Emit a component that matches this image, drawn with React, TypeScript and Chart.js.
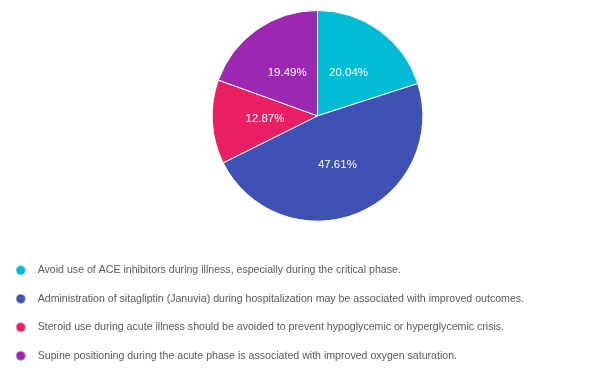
import React, { useEffect, useRef } from "react";
import { Chart, registerables } from "chart.js";

Chart.register(...registerables);

const categories: string[] = [
  "Avoid use of ACE inhibitors during illness, especially during the critical phase.",
  "Administration of sitagliptin (Januvia) during hospitalization may be associated with improved outcomes.",
  "Steroid use during acute illness should be avoided to prevent hypoglycemic or hyperglycemic crisis.",
  "Supine positioning during the acute phase is associated with improved oxygen saturation.",
];
const shares: number[] = [20.04, 47.61, 12.87, 19.49];
const colors: string[] = ["#00BCD4", "#3F51B5", "#E91E63", "#9C27B0"];

function makeDot(color: string): HTMLCanvasElement {
  const c = document.createElement("canvas");
  c.width = 10;
  c.height = 10;
  const g = c.getContext("2d")!;
  g.fillStyle = color;
  g.beginPath();
  g.arc(5, 5, 4.6, 0, Math.PI * 2);
  g.fill();
  return c;
}

const percentLabels = {
  id: "percentLabels",
  afterDatasetsDraw(chart: any) {
    const ctx = chart.ctx;
    const meta = chart.getDatasetMeta(0);
    const data = chart.data.datasets[0].data as number[];
    ctx.save();
    ctx.fillStyle = "#ffffff";
    ctx.font = "11.5px 'Liberation Sans', Arial, sans-serif";
    ctx.textAlign = "center";
    ctx.textBaseline = "middle";
    meta.data.forEach((arc: any, i: number) => {
      const p = arc.tooltipPosition();
      ctx.fillText(data[i].toFixed(2) + "%", p.x, p.y);
    });
    ctx.restore();
  },
};

export default function App() {
  const ref = useRef<HTMLCanvasElement | null>(null);
  useEffect(() => {
    if (!ref.current) return;
    const dots = colors.map(makeDot);
    const chart = new Chart(ref.current, {
      type: "pie",
      data: {
        labels: categories,
        datasets: [
          {
            data: shares,
            backgroundColor: colors,
            borderColor: "#ffffff",
            borderWidth: 1,
          },
        ],
      },
      options: {
        animation: false,
        responsive: true,
        maintainAspectRatio: false,
        layout: { padding: { top: 10, bottom: 3, left: -8.9, right: 0 } },
        plugins: {
          tooltip: { enabled: false },
          legend: {
            position: "bottom",
            align: "start",
            title: {
              display: true,
              text: "",
              font: { size: 12 },
              padding: { top: 0, bottom: 10.9 },
            },
            labels: {
              usePointStyle: true,
              pointStyleWidth: 23.4,
              padding: 17.9,
              color: "#5a5a5a",
              font: { size: 10.6, family: "'Liberation Sans', Arial, sans-serif" },
              generateLabels: (c: any) => {
                const base = (Chart as any).overrides.pie.plugins.legend.labels.generateLabels(c);
                return base.map((it: any, i: number) => ({
                  ...it,
                  pointStyle: dots[i],
                  lineWidth: 0,
                  strokeStyle: "rgba(0,0,0,0)",
                }));
              },
            },
          },
        },
      },
      plugins: [percentLabels],
    });
    return () => chart.destroy();
  }, []);
  return (
    <div style={{ position: "absolute", left: 0, top: 0, width: 600, height: 374, overflow: "hidden", background: "#fff" }}>
      <div style={{ position: "relative", width: 635, height: 374 }}>
        <canvas ref={ref} />
      </div>
    </div>
  );
}
